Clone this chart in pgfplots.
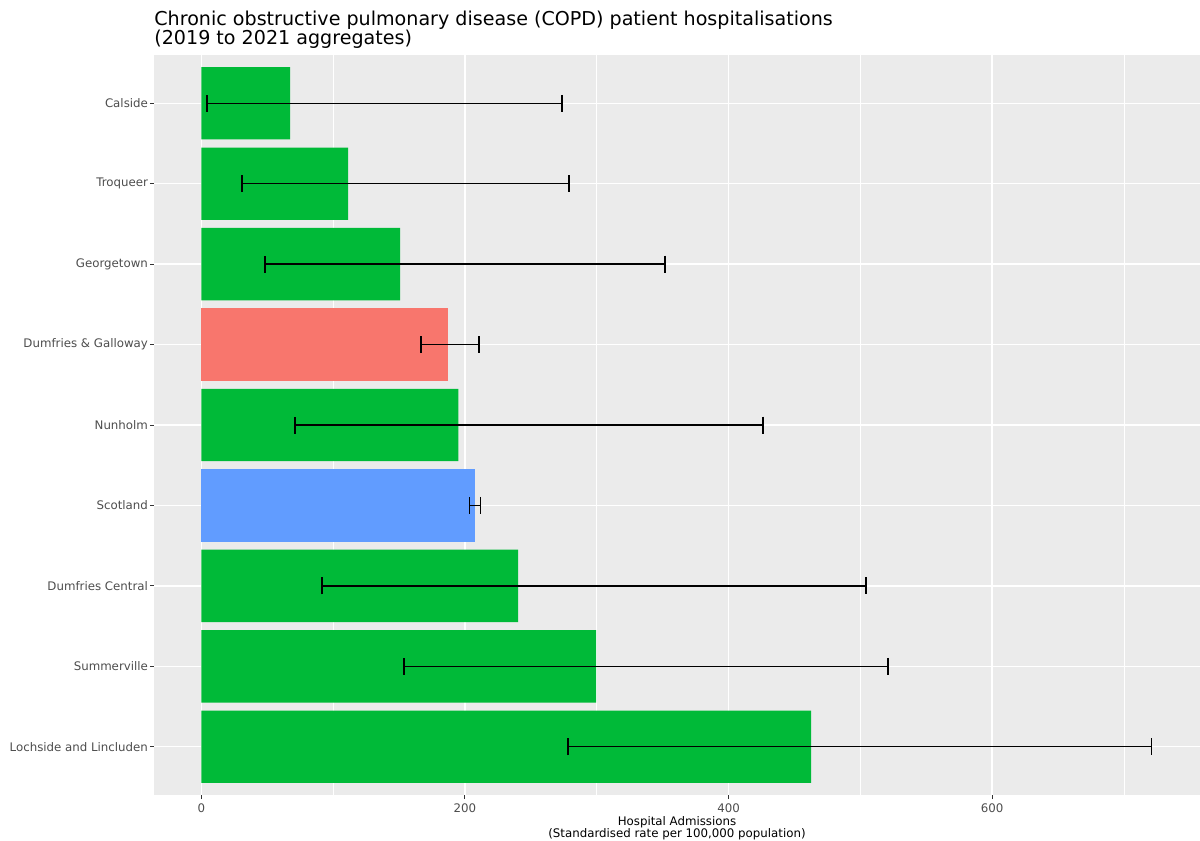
\documentclass[border=0pt]{standalone}
\usepackage{fontspec}
\setmainfont{DejaVu Sans}
\usepackage{pgfplots}
\usepackage{pgfplotstable}
\pgfplotsset{compat=1.18}

\definecolor{ggreen}{HTML}{00BA38}
\definecolor{gred}{HTML}{F8766D}
\definecolor{gblue}{HTML}{619CFF}
\definecolor{panel}{HTML}{EBEBEB}
\definecolor{ticktext}{HTML}{4D4D4D}
\definecolor{tickmark}{HTML}{333333}

% y: 9 = top row (Calside) ... 1 = bottom row (Lochside and Lincluden)
\pgfplotstableread{
y val lo hi
9 67.3 4.4 273.7
8 111.3 30.9 279.0
7 150.8 48.3 351.8
5 195.0 71.1 426.2
3 240.3 91.6 504.3
2 299.5 153.8 520.9
1 462.6 278.2 721.0
}\wards
\pgfplotstableread{
y val lo hi
6 187.4 166.7 210.7
}\board
\pgfplotstableread{
y val lo hi
4 208.0 203.3 212.0
}\scotland

\begin{document}
\begin{tikzpicture}
\useasboundingbox (0,0) rectangle (600pt,420.5pt);
\begin{axis}[
    at={(77pt,23pt)}, anchor=south west,
    scale only axis,
    width=523pt, height=370pt,
    xmin=-35.9, xmax=757.7,
    ymin=0.4, ymax=9.6,
    xbar, bar width=0.9, bar shift=0,
    axis background/.style={fill=panel},
    axis line style={draw=none},
    xtick={0,200,400,600},
    minor xtick={100,300,500,700},
    ytick={1,...,9},
    yticklabels={Lochside and Lincluden, Summerville, Dumfries Central, Scotland, Nunholm, Dumfries \& Galloway, Georgetown, Troqueer, Calside},
    xtick pos=bottom, ytick pos=left,
    grid=both,
    major grid style={white, line width=0.75pt},
    minor grid style={white, line width=0.35pt},
    tick align=outside,
    major tick length=2pt,
    minor tick length=0pt,
    tick style={tickmark, line width=0.5pt},
    ticklabel style={font=\fontsize{5.9}{7}\selectfont, text=ticktext},
    /pgf/number format/assume math mode=true,
    xticklabel style={yshift=1pt},
    yticklabel style={xshift=2.5pt},
    error bars/x dir=both,
    error bars/x explicit,
    error bars/error mark=|,
    error bars/error bar style={black, line width=0.7pt},
    error bars/error mark options={black, line width=0.7pt, mark size=4.25pt},
]
\addplot[fill=ggreen, draw=none] table[x=val, y=y,
    x error plus expr=\thisrow{hi}-\thisrow{val},
    x error minus expr=\thisrow{val}-\thisrow{lo}] {\wards};
\addplot[fill=gred, draw=none] table[x=val, y=y,
    x error plus expr=\thisrow{hi}-\thisrow{val},
    x error minus expr=\thisrow{val}-\thisrow{lo}] {\board};
\addplot[fill=gblue, draw=none] table[x=val, y=y,
    x error plus expr=\thisrow{hi}-\thisrow{val},
    x error minus expr=\thisrow{val}-\thisrow{lo}] {\scotland};
\end{axis}
\node[anchor=base west, inner sep=0pt, font=\fontsize{9.55}{11}\selectfont] at (77pt,407.5pt) {Chronic obstructive pulmonary disease (COPD) patient hospitalisations};
\node[anchor=base west, inner sep=0pt, font=\fontsize{9.55}{11}\selectfont] at (77pt,398.3pt) {(2019 to 2021 aggregates)};
\node[anchor=base, inner sep=0pt, font=\fontsize{5.9}{7}\selectfont] at (338.5pt,7.5pt) {Hospital Admissions};
\node[anchor=base, inner sep=0pt, font=\fontsize{5.9}{7}\selectfont] at (338.5pt,1.6pt) {(Standardised rate per 100,000 population)};
\end{tikzpicture}
\end{document}
